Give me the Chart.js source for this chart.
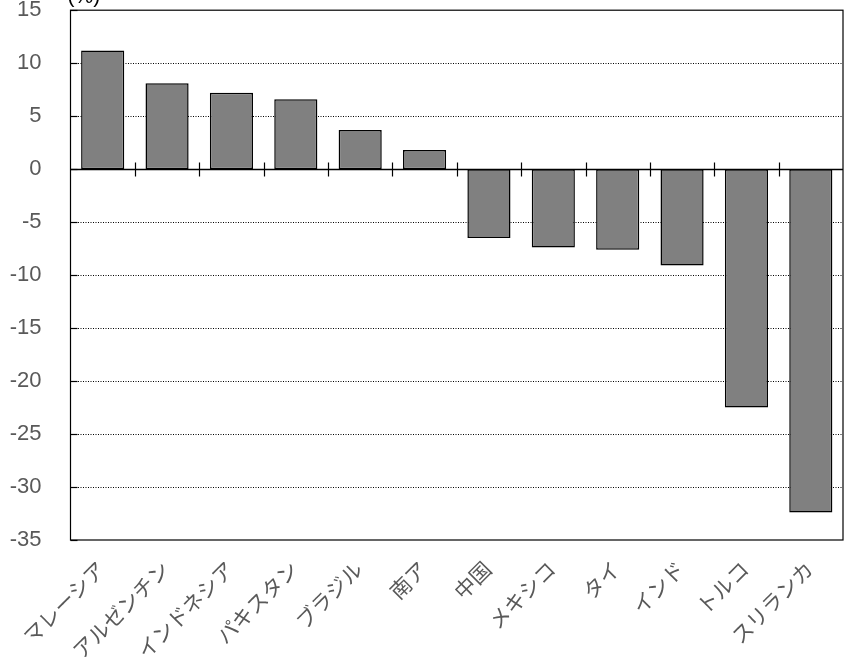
<!DOCTYPE html>
<html>
<head>
<meta charset="utf-8">
<script src="https://cdn.jsdelivr.net/npm/chart.js@4"></script>
<style>
  html, body { margin: 0; padding: 0; background: #fff; overflow: hidden; }
  #wrap { width: 867px; height: 669px; overflow: hidden; position: relative; }
  #myBarChart1 { position: absolute; left: 0; top: -24px; }
</style>
</head>
<body>
<div id="wrap"><canvas id="myBarChart1" width="867" height="693"></canvas></div>
<script>
const countries = ['マレーシア', 'アルゼンチン', 'インドネシア', 'パキスタン', 'ブラジル', '南ア',
  '中国', 'メキシコ', 'タイ', 'インド', 'トルコ', 'スリランカ'];
const changes = [11.2, 8.1, 7.2, 6.6, 3.7, 1.8, -6.5, -7.4, -7.6, -9.1, -22.5, -32.4];
const yTicks = [15, 10, 5, 0, -5, -10, -15, -20, -25, -30, -35];

const FONT = "'Liberation Sans', Arial, 'Noto Sans CJK JP', sans-serif";
const GREY = '#595959';

// frame, dotted grid, zero axis with ticks between categories
const framePlugin = {
  id: 'frame',
  beforeDatasetsDraw(chart) {
    const { ctx, chartArea: a, scales: { y } } = chart;
    ctx.save();
    ctx.strokeStyle = '#000';
    ctx.lineWidth = 1;
    ctx.setLineDash([1, 1.5]);
    yTicks.forEach(v => {
      if (v === 0 || v === 15 || v === -35) return;
      const py = Math.round(y.getPixelForValue(v)) + 0.5;
      ctx.beginPath();
      ctx.moveTo(a.left, py);
      ctx.lineTo(a.right, py);
      ctx.stroke();
    });
    ctx.restore();
  },
  afterDatasetsDraw(chart) {
    const { ctx, chartArea: a, scales: { x, y } } = chart;
    ctx.save();
    ctx.strokeStyle = '#000';
    ctx.lineWidth = 1.2;
    ctx.strokeRect(a.left, a.top, a.right - a.left, a.bottom - a.top);
    // y ticks inside
    yTicks.forEach(v => {
      const py = Math.round(y.getPixelForValue(v)) + 0.5;
      ctx.beginPath();
      ctx.moveTo(a.left, py);
      ctx.lineTo(a.left + 7, py);
      ctx.stroke();
    });
    // zero line
    const zy = Math.round(y.getPixelForValue(0)) + 0.5;
    ctx.lineWidth = 1.4;
    ctx.beginPath();
    ctx.moveTo(a.left, zy);
    ctx.lineTo(a.right, zy);
    ctx.stroke();
    ctx.lineWidth = 1.2;
    for (let i = 1; i < countries.length; i++) {
      const px = Math.round((x.getPixelForValue(i - 1) + x.getPixelForValue(i)) / 2) + 0.5;
      ctx.beginPath();
      ctx.moveTo(px, zy - 7);
      ctx.lineTo(px, zy + 7);
      ctx.stroke();
    }
    // unit label
    ctx.fillStyle = '#000';
    ctx.font = '21px ' + FONT;
    ctx.textBaseline = 'alphabetic';
    ctx.fillText('(%)', a.left - 3, a.top - 7);
    ctx.restore();
  }
};

new Chart(document.getElementById('myBarChart1').getContext('2d'), {
  type: 'bar',
  data: {
    labels: countries,
    datasets: [{
      data: changes,
      backgroundColor: '#808080',
      borderColor: '#000',
      borderWidth: 1.5,
      borderSkipped: false,
      categoryPercentage: 1,
      barPercentage: 0.67
    }]
  },
  options: {
    responsive: false,
    animation: false,
    layout: { padding: { top: 10, right: 24, left: 0, bottom: 0 } },
    plugins: { legend: { display: false }, tooltip: { enabled: false } },
    scales: {
      x: {
        grid: { display: false },
        border: { display: false },
        ticks: {
          color: GREY,
          font: { family: FONT, size: 21 },
          minRotation: 45,
          maxRotation: 45,
          padding: 10
        },
        afterFit(s) { s.height = 129; }
      },
      y: {
        min: -35,
        max: 15,
        grid: { display: false },
        border: { display: false },
        afterBuildTicks(s) { s.ticks = yTicks.map(v => ({ value: v })); },
        ticks: {
          color: GREY,
          font: { family: FONT, size: 22 },
          padding: 21
        },
        afterFit(s) { s.width = 70.5; }
      }
    }
  },
  plugins: [framePlugin]
});
</script>
</body>
</html>
